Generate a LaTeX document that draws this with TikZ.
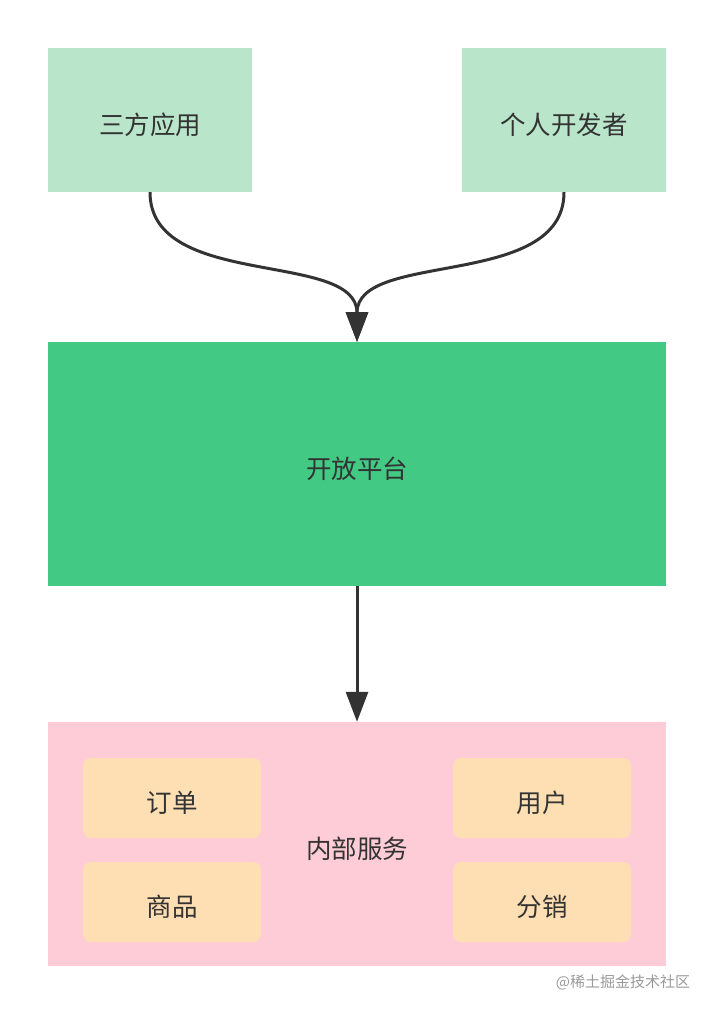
\documentclass[tikz,border=0pt]{standalone}
\usepackage{fontspec}
\setmainfont{Noto Sans CJK SC}
\usetikzlibrary{arrows.meta}
\definecolor{topg}{HTML}{B9E5CA}
\definecolor{midg}{HTML}{42C983}
\definecolor{pinkb}{HTML}{FECCD6}
\definecolor{orab}{HTML}{FEDFB3}
\definecolor{txt}{HTML}{333333}
\definecolor{wm}{HTML}{9A9A9A}
\begin{document}
\begin{tikzpicture}[x=1pt,y=-1pt,
  box/.style={inner sep=0pt},
  lbl/.style={inner sep=0pt,text=txt,font=\fontsize{25.5}{30}\selectfont},
  inner/.style={box,fill=orab,rounded corners=8pt,minimum width=178pt,minimum height=80pt},
  conn/.style={draw=txt,line width=3pt,-{Triangle[length=30pt,width=22pt]}}]
\useasboundingbox (0,0) rectangle (714,1014);
\fill[white] (0,0) rectangle (714,1014);
\node[box,fill=topg,minimum width=204pt,minimum height=144pt] (a) at (150,120) {};
\node[lbl] (at) at (150,125) {三方应用};
\node[box,fill=topg,minimum width=204pt,minimum height=144pt] (b) at (564,120) {};
\node[lbl] (bt) at (564,125) {个人开发者};
\node[box,fill=midg,minimum width=618pt,minimum height=244pt] (c) at (357,464) {};
\node[lbl] (ct) at (357,469) {开放平台};
\node[box,fill=pinkb,minimum width=618pt,minimum height=244pt] (d) at (357,844) {};
\node[lbl] (dt) at (357,849) {内部服务};
\node[inner] (e1) at (172,798) {};
\node[lbl] (e1t) at (172,803) {订单};
\node[inner] (e2) at (542,798) {};
\node[lbl] (e2t) at (542,803) {用户};
\node[inner] (e3) at (172,902) {};
\node[lbl] (e3t) at (172,907) {商品};
\node[inner] (e4) at (542,902) {};
\node[lbl] (e4t) at (542,907) {分销};
\node[text=wm,inner sep=0pt,font=\fontsize{15}{18}\selectfont] (w) at (623,982) {@稀土掘金技术社区};
\coordinate (top) at (357,342);
\draw[conn] (a.south) .. controls (150,290) and (357,250) .. (top);
\draw[conn] (b.south) .. controls (564,290) and (357,250) .. (top);
\draw[conn] (c.south) -- (d.north);
\end{tikzpicture}
\end{document}
